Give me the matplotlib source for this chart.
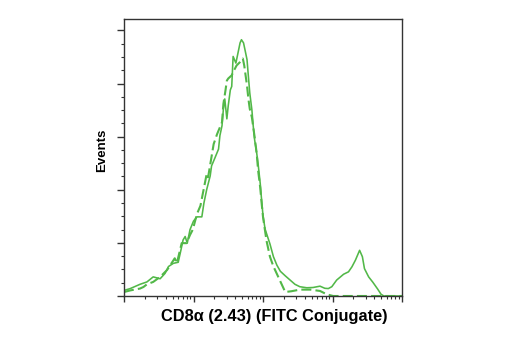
import numpy as np
import matplotlib
matplotlib.use("Agg")
import matplotlib.pyplot as plt
from matplotlib.ticker import LogLocator, NullFormatter, MultipleLocator

GREEN = "#52b848"

# Fluorescence intensity (log10 decades) and event counts, stained sample
stained_log = [0.00, 0.09, 0.23, 0.33, 0.42, 0.52, 0.59, 0.64, 0.71, 0.78, 0.82,
               0.85, 0.88, 0.91, 0.95, 1.00, 1.05, 1.12, 1.15, 1.19, 1.24, 1.26,
               1.31, 1.36, 1.38, 1.41, 1.43, 1.45, 1.48, 1.50, 1.53, 1.55, 1.57,
               1.61, 1.64, 1.67, 1.69, 1.72, 1.74, 1.77, 1.79, 1.81, 1.84, 1.86,
               1.88, 1.91, 1.93, 1.96, 1.98, 2.00, 2.03, 2.10, 2.15, 2.20, 2.25,
               2.32, 2.39, 2.46, 2.53, 2.63, 2.72, 2.82, 2.89, 2.94, 2.99, 3.06,
               3.16, 3.23, 3.28, 3.33, 3.39, 3.43, 3.46, 3.52, 3.58, 3.65, 3.70,
               3.74, 3.80, 4.00]
stained_cnt = [2.1, 2.8, 4.4, 5.3, 7.2, 6.5, 8.5, 11.1, 12.3, 12.7, 17.4,
               21.1, 22.4, 19.9, 25.0, 28.2, 29.8, 29.8, 35.0, 40.1, 45.2, 49.0,
               52.1, 55.3, 60.4, 64.1, 70.4, 74.2, 66.7, 71.7, 77.6, 78.9, 90.2,
               87.7, 91.5, 95.3, 96.5, 95.3, 92.8, 89.0, 82.6, 76.4, 70.1, 63.8,
               58.7, 53.7, 49.6, 42.4, 36.1, 30.3, 25.2, 19.6, 14.8, 11.6, 9.3,
               7.6, 6.0, 4.4, 3.5, 3.1, 3.2, 3.7, 2.9, 2.8, 3.5, 6.0,
               8.2, 9.1, 11.0, 13.5, 17.2, 14.8, 10.3, 7.2, 5.2, 2.6, 0.6,
               0.0, 0.0, 0.0]

# Isotype control
control_log = [0.00, 0.09, 0.23, 0.28, 0.33, 0.42, 0.52, 0.62, 0.73, 0.76, 0.83,
               0.90, 0.95, 0.99, 1.05, 1.10, 1.19, 1.21, 1.29, 1.34, 1.41, 1.43,
               1.46, 1.48, 1.50, 1.55, 1.57, 1.62, 1.67, 1.71, 1.73, 1.77, 1.79,
               1.81, 1.84, 1.86, 1.88, 1.91, 1.93, 1.96, 1.98, 2.00, 2.05, 2.10,
               2.15, 2.17, 2.32, 2.41, 2.53, 2.68, 2.82, 2.92, 3.01, 3.50, 4.00]
control_cnt = [1.5, 2.1, 2.8, 3.4, 4.4, 5.3, 7.2, 9.8, 14.2, 12.3, 19.9,
               19.9, 23.0, 25.0, 30.9, 34.0, 46.0, 44.7, 57.2, 61.0, 65.4, 72.3,
               77.4, 81.1, 81.9, 83.1, 84.3, 86.8, 88.1, 89.4, 86.8, 79.2, 74.2,
               70.4, 67.3, 63.5, 59.8, 53.5, 47.2, 40.8, 35.0, 29.8, 20.9, 14.8,
               11.1, 10.0, 1.5, 1.8, 2.4, 2.4, 1.9, 0.6, 0.0, 0.0, 0.0]

fig = plt.figure(figsize=(5.2, 3.5), dpi=100)
ax = fig.add_axes([124 / 520, 1 - 296 / 350, (402 - 124) / 520, (296 - 19) / 350])

ax.plot(10 ** np.array(stained_log), stained_cnt, color=GREEN, lw=1.15,
        solid_joinstyle="round")
ax.plot(10 ** np.array(control_log), control_cnt, color=GREEN, lw=1.5,
        linestyle=(0, (4.8, 2.0)))

ax.set_xscale("log")
ax.set_xlim(1, 1e4)
ax.set_ylim(0, 104.3)

ax.xaxis.set_major_locator(LogLocator(base=10, numticks=10))
ax.xaxis.set_minor_locator(LogLocator(base=10, subs=np.arange(2, 10), numticks=10))
ax.xaxis.set_major_formatter(NullFormatter())
ax.xaxis.set_minor_formatter(NullFormatter())
ax.yaxis.set_major_locator(MultipleLocator(20))
ax.yaxis.set_minor_locator(MultipleLocator(5))
ax.yaxis.set_major_formatter(NullFormatter())

ax.tick_params(which="major", direction="out", length=5, width=1.0, color="#333333")
ax.tick_params(which="minor", direction="out", length=2.5, width=0.8, color="#333333")
ax.tick_params(axis="x", which="major", length=4)
for s in ax.spines.values():
    s.set_color("#333333")
    s.set_linewidth(1.0)

font = ["Liberation Sans", "DejaVu Sans"]
ax.set_xlabel("CD8α (2.43) (FITC Conjugate)", fontsize=11.8, fontweight="bold",
              family=font)
ax.xaxis.set_label_coords(0.541, -0.0455)
ax.set_ylabel("Events", fontsize=9.5, fontweight="bold", family=font)
ax.yaxis.set_label_coords(-0.058, 0.525)

fig.savefig("out.png", dpi=100)
